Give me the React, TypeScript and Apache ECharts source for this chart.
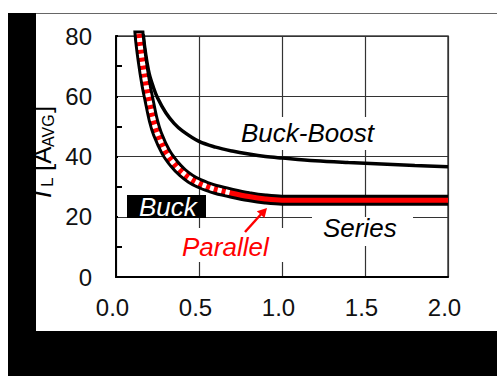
import React, { useEffect, useRef } from "react";
import * as echarts from "echarts";

// x (duty / ratio) and average inductor current values
const buckBoostX = [0.155, 0.165, 0.18, 0.2, 0.225, 0.25, 0.3, 0.35, 0.4, 0.5, 0.6, 0.7, 0.8, 0.9, 1.0, 1.2, 1.4, 1.6, 1.8, 2.0];
const buckBoostY = [88, 80, 73.5, 67.5, 63, 59.5, 54.5, 51, 48.5, 45.0, 43.1, 41.8, 40.8, 40.0, 39.5, 38.6, 38.0, 37.5, 37.0, 36.6];

const lowerX = [0.13, 0.14, 0.16, 0.18, 0.2, 0.225, 0.25, 0.3, 0.35, 0.4, 0.45, 0.5, 0.55, 0.6, 0.7, 0.8, 0.9, 1.0, 1.5, 2.0];
const buckY = [90, 80, 71, 64, 58.5, 52, 47.5, 41.5, 37.6, 34.7, 32.6, 31.1, 30.0, 29.1, 27.8, 26.7, 25.9, 25.5, 25.5, 25.5];
const parallelY = [90, 80, 71, 64, 58.5, 52, 47.5, 41.5, 37.6, 34.7, 32.6, 31.1, 30.0, 29.1, 27.8, 26.7, 25.9, 25.5, 25.5, 25.5];
const seriesX = [0.13, 0.14, 0.16, 0.18, 0.2, 0.225, 0.25, 0.3, 0.35, 0.4, 0.45, 0.5, 0.55, 0.6, 0.7];
const seriesY = [90, 80, 71, 64, 58.5, 52, 47.5, 41.5, 37.6, 34.7, 32.6, 31.1, 30.0, 29.1, 27.8];

const xTicks = { min: 0, max: 2, interval: 0.5 };
const yTicks = { min: 0, max: 80, interval: 20 };

const zip = (xs: number[], ys: number[]) => xs.map((x, i) => [x, ys[i]]);

const FONT = "'Liberation Sans', Arial, sans-serif";

export default function App() {
  const ref = useRef<HTMLDivElement>(null);
  useEffect(() => {
    if (!ref.current) return;
    const chart = echarts.init(ref.current, undefined, { renderer: "svg" });
    const labelFont = (size: number, italic = false) => ({
      fontSize: size,
      fontFamily: FONT,
      fontStyle: italic ? "italic" : "normal",
    });
    chart.setOption({
      animation: false,
      backgroundColor: "#ffffff",
      textStyle: { fontFamily: FONT },
      grid: { left: 116, right: 49, top: 36, bottom: 99, show: true, borderColor: "#444", borderWidth: 1.5 },
      xAxis: {
        type: "value",
        min: xTicks.min,
        max: xTicks.max,
        interval: xTicks.interval,
        axisLine: { show: true, onZero: false, lineStyle: { color: "#000", width: 2 } },
        axisTick: { show: false },
        axisLabel: {
          formatter: (v: number) => v.toFixed(1),
          fontSize: 24,
          fontFamily: FONT,
          color: "#111",
          margin: 18,
          padding: [0, 7, 0, 0],
        },
        splitLine: { show: true, lineStyle: { color: "#333", width: 1.2 } },
      },
      yAxis: {
        type: "value",
        min: yTicks.min,
        max: yTicks.max,
        interval: yTicks.interval,
        axisLine: { show: true, onZero: false, lineStyle: { color: "#000", width: 2 } },
        axisTick: { show: true, inside: true, length: 2, lineStyle: { color: "#000", width: 2 } },
        minorTick: { show: true, splitNumber: 2, length: 6, lineStyle: { color: "#000", width: 2 } },
        axisLabel: { fontSize: 24, fontFamily: FONT, color: "#111", margin: 24 },
        splitLine: { show: true, lineStyle: { color: "#333", width: 1.2 } },
      },
      series: [
        {
          name: "Buck-Boost",
          type: "line",
          data: zip(buckBoostX, buckBoostY),
          smooth: 0.35,
          showSymbol: false,
          clip: true,
          z: 3,
          lineStyle: { color: "#000", width: 3.5 },
        },
        {
          name: "Buck",
          type: "line",
          data: zip(lowerX, buckY),
          smooth: 0.35,
          showSymbol: false,
          clip: true,
          z: 3,
          lineStyle: { color: "#000", width: 11 },
        },
        {
          name: "Parallel",
          type: "line",
          data: zip(lowerX, parallelY),
          smooth: 0.35,
          showSymbol: false,
          clip: true,
          z: 4,
          lineStyle: { color: "#ff0000", width: 5 },
        },
        {
          name: "Series",
          type: "line",
          data: zip(seriesX, seriesY),
          smooth: 0.35,
          showSymbol: false,
          clip: true,
          z: 5,
          lineStyle: { color: "#ffffff", width: 5, type: [4, 4] },
        },
      ],
      graphic: [
        // white label backgrounds (hide grid lines)
        { type: "rect", z: 1, shape: { x: 238, y: 117, width: 146, height: 33 }, style: { fill: "#fff" } },
        { type: "rect", z: 1, shape: { x: 312, y: 217, width: 101, height: 29 }, style: { fill: "#fff" } },
        { type: "rect", z: 1, shape: { x: 176, y: 228, width: 112, height: 34 }, style: { fill: "#fff" } },
        { type: "rect", z: 6, shape: { x: 127, y: 195, width: 79, height: 23 }, style: { fill: "#000" } },
        {
          type: "text", z: 7, x: 241, y: 133,
          style: { text: "Buck-Boost", ...labelFont(26, true), fill: "#000", textVerticalAlign: "middle" },
        },
        {
          type: "text", z: 7, x: 323, y: 228,
          style: { text: "Series", ...labelFont(26, true), fill: "#000", textVerticalAlign: "middle" },
        },
        {
          type: "text", z: 7, x: 182, y: 247,
          style: { text: "Parallel", ...labelFont(26, true), fill: "#ff0000", textVerticalAlign: "middle" },
        },
        {
          type: "text", z: 7, x: 139, y: 207,
          style: { text: "Buck", ...labelFont(26, true), fill: "#fff", textVerticalAlign: "middle" },
        },
        // red arrow
        { type: "line", z: 7, shape: { x1: 245, y1: 232, x2: 263, y2: 212 }, style: { stroke: "#ff0000", lineWidth: 2.5 } },
        {
          type: "polygon", z: 7,
          shape: { points: [[267, 208], [264.5, 218], [256.8, 211.2]] },
          style: { fill: "#ff0000" },
        },
        // rotated y-axis name, partly hidden by the black frame
        {
          type: "group", z: 8, x: 49, y: 198, rotation: Math.PI / 2,
          children: [
            { type: "text", z: 8, x: 0, y: 5.5, style: { text: "I", ...labelFont(26, true), fill: "#000", textVerticalAlign: "bottom" } },
            { type: "text", z: 8, x: 11, y: 7, style: { text: "L", ...labelFont(17), fill: "#000", textVerticalAlign: "bottom" } },
            { type: "text", z: 8, x: 27, y: 5.5, style: { text: "[A", ...labelFont(26), fill: "#000", textVerticalAlign: "bottom" } },
            { type: "text", z: 8, x: 51, y: 7, style: { text: "AVG", ...labelFont(16), fill: "#000", textVerticalAlign: "bottom" } },
            { type: "text", z: 8, x: 85, y: 5.5, style: { text: "]", ...labelFont(26), fill: "#000", textVerticalAlign: "bottom" } },
          ],
        },
        // frame of the cropped figure
        { type: "line", z: 100, shape: { x1: 36, y1: 13.5, x2: 497, y2: 13.5 }, style: { stroke: "#666", lineWidth: 1 } },
        { type: "rect", z: 100, shape: { x: 8, y: 13, width: 28, height: 363 }, style: { fill: "#000" } },
        { type: "rect", z: 100, shape: { x: 8, y: 331, width: 489, height: 45 }, style: { fill: "#000" } },
      ],
    });
    return () => chart.dispose();
  }, []);
  return (
    <div
      ref={ref}
      style={{ position: "fixed", left: 0, top: 0, width: 497, height: 376, background: "#fff" }}
    />
  );
}
